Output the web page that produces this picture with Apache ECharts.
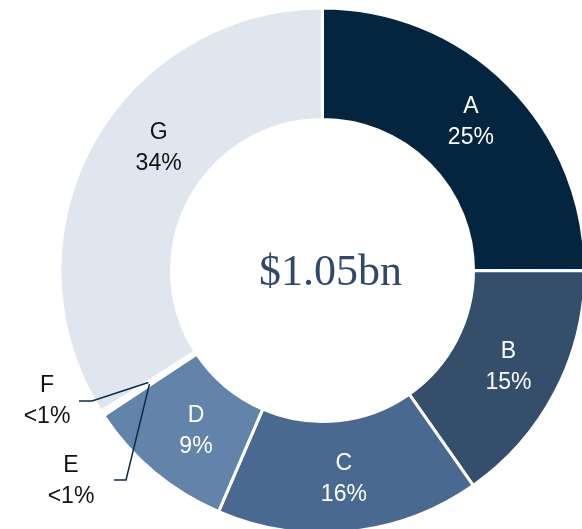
<!DOCTYPE html>
<html>
<head>
<meta charset="utf-8">
<script src="https://cdn.jsdelivr.net/npm/echarts@6/dist/echarts.min.js"></script>
<style>
html,body{margin:0;padding:0;background:#fff;}
#chart{width:582px;height:529px;}
</style>
</head>
<body>
<div id="chart"></div>
<script>
const categories = ['A', 'B', 'C', 'D', 'E', 'F', 'G'];
const shares = [25.0, 15.25, 16.2, 9.2, 0.15, 0.15, 34.0];
const shareLabels = ['25%', '15%', '16%', '9%', '<1%', '<1%', '34%'];
const colors = ['#03253f', '#354e6b', '#4a6990', '#6384aa', '#ffffff', '#ffffff', '#e0e6ef'];
const labelColors = ['#ffffff', '#ffffff', '#ffffff', '#ffffff', '#111111', '#111111', '#111111'];
const totalText = '$1.05bn';
const outsideLabels = ['E', 'F'];

const chart = echarts.init(document.getElementById('chart'), null, {renderer: 'canvas'});

const center = [322.5, 270.5];

// small nudges of some inside labels (layout only)
const labelOffsets = {D: [8, 0], G: [20, -21]};

const mainData = categories.map((c, i) => ({
  name: c,
  value: shares[i],
  itemStyle: {color: colors[i]},
  label: {
    show: outsideLabels.indexOf(c) < 0,
    color: labelColors[i],
    offset: labelOffsets[c] || [0, 0]
  }
}));

const guideData = categories.map((c, i) => ({
  name: c,
  value: shares[i],
  label: {show: outsideLabels.indexOf(c) >= 0},
  labelLine: {show: outsideLabels.indexOf(c) >= 0}
}));

// label anchor positions for the outside labels (layout only)
const outsideLayout = {
  F: {x: 47, y: 401, elbow: [92, 401], end: [79, 401]},
  E: {x: 71, y: 481, elbow: [126, 480], end: [114, 480]}
};

chart.setOption({
  animation: false,
  backgroundColor: '#ffffff',
  series: [
    {
      type: 'pie',
      center: center,
      radius: [151, 262.5],
      startAngle: 90,
      clockwise: true,
      avoidLabelOverlap: false,
      silent: true,
      itemStyle: {borderColor: '#ffffff', borderWidth: 3},
      label: {
        position: 'inside',
        fontFamily: 'Liberation Sans',
        fontSize: 23,
        lineHeight: 31,
        formatter: p => p.name + '\n' + shareLabels[p.dataIndex]
      },
      labelLine: {show: false},
      data: mainData
    },
    {
      type: 'pie',
      center: center,
      radius: [0, 207],
      startAngle: 90,
      clockwise: true,
      avoidLabelOverlap: false,
      silent: true,
      z: 3,
      itemStyle: {color: 'rgba(0,0,0,0)', borderWidth: 0},
      label: {
        position: 'outside',
        fontFamily: 'Liberation Sans',
        fontSize: 23,
        lineHeight: 31,
        color: '#111111',
        align: 'center',
        formatter: p => p.name + '\n' + shareLabels[p.dataIndex]
      },
      labelLine: {
        show: true,
        length: 10,
        length2: 10,
        lineStyle: {color: '#0d2a44', width: 1.5}
      },
      labelLayout: function (params) {
        const name = categories[params.dataIndex];
        const cfg = outsideLayout[name];
        if (!cfg) return {};
        const start = params.labelLinePoints ? params.labelLinePoints[0] : cfg.elbow;
        return {
          x: cfg.x,
          y: cfg.y,
          align: 'center',
          verticalAlign: 'middle',
          labelLinePoints: [start, cfg.elbow, cfg.end]
        };
      },
      data: guideData
    }
  ],
  graphic: [{
    type: 'text',
    x: center[0] + 8,
    y: center[1] + 3,
    style: {
      text: totalText,
      fontFamily: 'Liberation Serif',
      fontSize: 44,
      fill: '#30496b',
      align: 'center',
      verticalAlign: 'middle'
    }
  }]
});
</script>
</body>
</html>
